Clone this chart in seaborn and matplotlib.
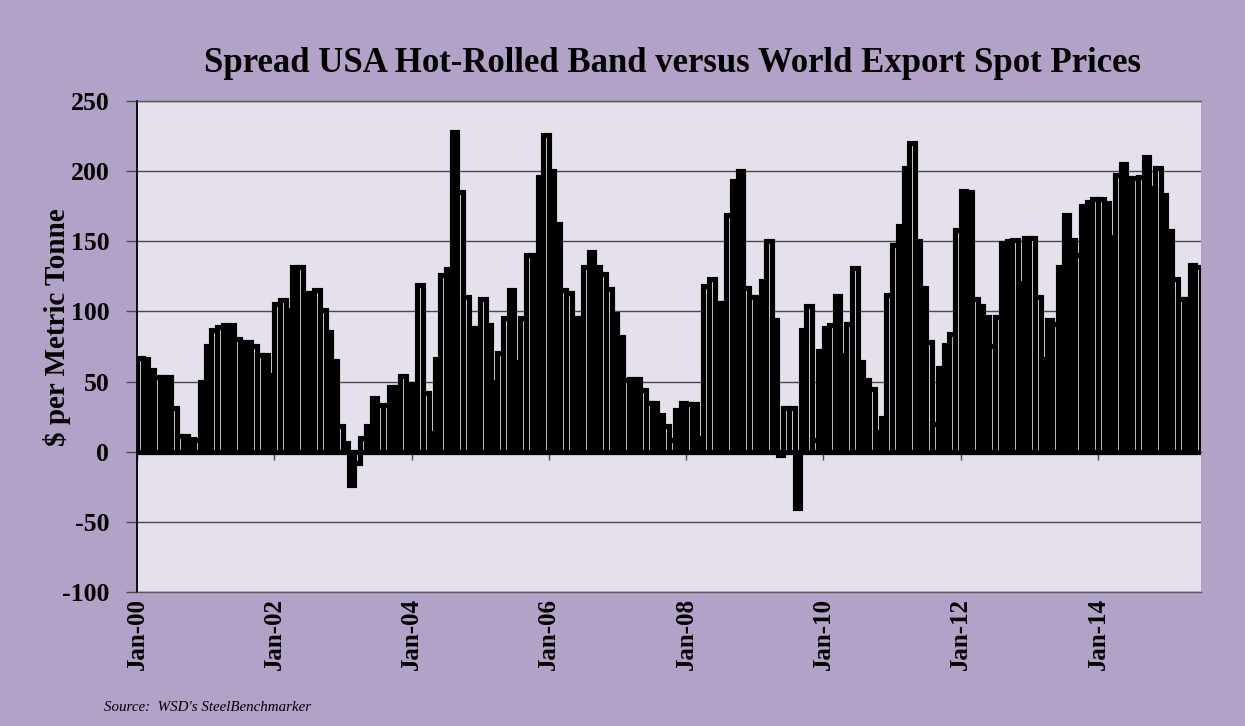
import numpy as np
import pandas as pd
import matplotlib
matplotlib.use("Agg")
import matplotlib.pyplot as plt
import seaborn as sns

# Monthly spread, USA hot-rolled band minus world export price ($/tonne)
# Jan-2000 .. Jun-2015, one list per two years
spread_2000_01 = [67, 66, 58, 53, 53, 53, 31, 11, 11, 9, 8, 50,
                  75, 87, 89, 90, 90, 80, 78, 78, 75, 69, 69, 55]
spread_2002_03 = [105, 108, 101, 132, 132, 113, 113, 115, 101, 85, 65, 18,
                  6, -24, -8, 10, 18, 38, 33, 33, 46, 46, 54, 48]
spread_2004_05 = [48, 119, 42, 13, 66, 126, 130, 228, 185, 110, 88, 88,
                  109, 90, 50, 70, 95, 115, 64, 95, 140, 140, 196, 226]
spread_2006_07 = [200, 162, 115, 113, 95, 95, 132, 142, 132, 127, 116, 98,
                  82, 51, 52, 52, 44, 35, 35, 26, 18, 8, 30, 35]
spread_2008_09 = [34, 34, 10, 118, 123, 106, 106, 169, 193, 200, 117, 110,
                  110, 122, 150, 94, -2, 31, 31, -40, 87, 104, 8, 72]
spread_2010_11 = [88, 90, 111, 69, 91, 131, 64, 51, 45, 14, 24, 112,
                  147, 161, 202, 220, 150, 117, 78, 20, 60, 76, 84, 158]
spread_2012_13 = [186, 185, 109, 104, 96, 75, 96, 149, 150, 151, 120, 152,
                  152, 110, 66, 94, 91, 132, 169, 151, 140, 175, 178, 180]
spread_2014_15 = [180, 177, 153, 197, 205, 195, 195, 196, 210, 188, 202, 183,
                  157, 123, 109, 109, 133, 132]

tick_labels = ["Jan-00", "Jan-02", "Jan-04", "Jan-06",
               "Jan-08", "Jan-10", "Jan-12", "Jan-14"]

FIG_BG = "#B2A2C7"
PLOT_BG = "#E5E0EC"
GRID = "#4a4a4a"

spread = (spread_2000_01 + spread_2002_03 + spread_2004_05 + spread_2006_07
          + spread_2008_09 + spread_2010_11 + spread_2012_13 + spread_2014_15)
df = pd.DataFrame({"month": np.arange(len(spread)), "spread": spread})

sns.set_theme(style="white")
plt.rcParams["font.family"] = ["Liberation Serif", "DejaVu Serif"]
plt.rcParams["axes.unicode_minus"] = False
plt.rcParams["text.color"] = "black"
plt.rcParams["axes.labelcolor"] = "black"
plt.rcParams["xtick.color"] = "black"
plt.rcParams["ytick.color"] = "black"

fig = plt.figure(figsize=(12.45, 7.26), dpi=100, facecolor=FIG_BG)
ax = fig.add_axes([0.1100, 0.1846, 0.8546, 0.6763], facecolor=PLOT_BG)

# hollow bars with a heavy outline, like the Excel original
sns.barplot(data=df, x="month", y="spread", ax=ax, fill=False, color="black",
            width=0.95, linewidth=3.7, errorbar=None)
for p in ax.patches:
    p.set_facecolor(PLOT_BG)

ax.set_xlim(-0.5, len(spread) - 0.5)
ax.set_ylim(-100, 250)
ax.set_yticks(range(-100, 251, 50))
ax.yaxis.grid(True, color=GRID, linewidth=1.0)
ax.xaxis.grid(False)
ax.set_axisbelow(True)

tick_pos = np.arange(len(tick_labels)) * 24 - 0.5
ax.set_xticks(tick_pos, tick_labels, rotation=90)
ax.tick_params(axis="x", length=0, pad=4, labelsize=18, labelcolor="black")
ax.tick_params(axis="y", direction="out", length=8, width=1, color=GRID,
               labelsize=18.5, pad=12, left=True, labelcolor="black")
for lab in ax.get_xticklabels() + ax.get_yticklabels():
    lab.set_fontweight("bold")

ax.set_xlabel("")
ax.set_ylabel("$ per Metric Tonne", fontsize=21, fontweight="bold", color="black")
ax.yaxis.set_label_coords(-0.062, 0.54)

for side in ["top", "bottom"]:
    ax.spines[side].set_color("#5a5a5a")
    ax.spines[side].set_linewidth(1)
ax.spines["left"].set_color("black")
ax.spines["left"].set_linewidth(1.3)
ax.spines["right"].set_visible(False)

# category axis crossing at zero, with its own small tick marks
zero = ax.secondary_xaxis(100 / 350)
zero.set_xticks(tick_pos)
zero.tick_params(axis="x", direction="out", length=6, width=1, color=GRID,
                 labelbottom=False, labeltop=False)
zero.spines["bottom"].set_color(GRID)
zero.spines["bottom"].set_linewidth(1)

fig.text(0.5402, 0.913, "Spread USA Hot-Rolled Band versus World Export Spot Prices",
         ha="center", va="center", fontsize=25, fontweight="bold", color="black")
fig.text(0.0835, 0.025, "Source:  WSD's SteelBenchmarker",
         ha="left", va="center", fontsize=10.8, fontstyle="italic", color="black")

fig.savefig("out.png", dpi=100, facecolor=FIG_BG)
